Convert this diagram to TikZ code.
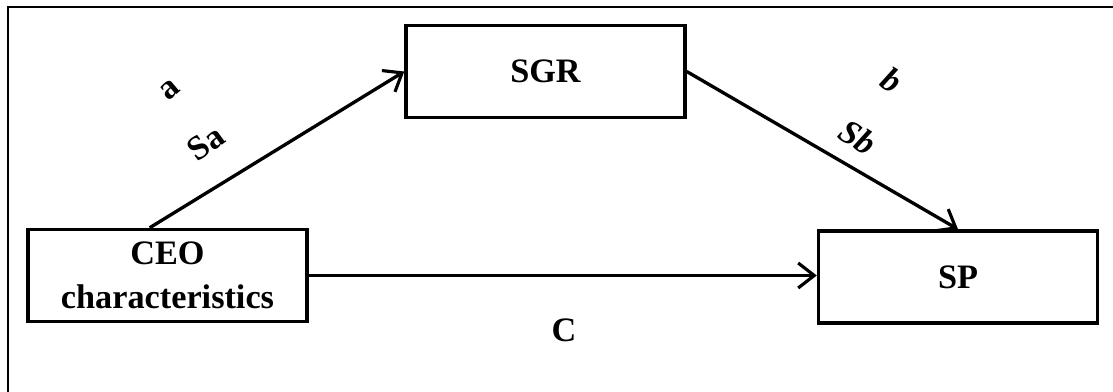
\documentclass[tikz,border=0pt]{standalone}
\usepackage{fontspec}
\setmainfont{Liberation Serif}
\usetikzlibrary{arrows.meta, calc}
\begin{document}
\begin{tikzpicture}[
  x=0.02cm, y=-0.02cm,
  box/.style={rectangle, draw, line width=2pt, minimum width=5.58cm, minimum height=1.84cm, align=center, font=\fontsize{19.5}{25}\selectfont\bfseries},
  lbl/.style={inner sep=0pt, font=\fontsize{19.5}{22}\selectfont\bfseries},
  line/.style={-{Straight Barb[length=3.2mm,width=5mm,line width=1.8pt]}, line width=1.9pt}
]
\useasboundingbox (0,0) rectangle (1113,392);
% Frame
\draw[line width=1.4pt] (8,392) -- (8,7) -- (1113,7);

% Boxes
\node[box] (sgr) at (545.5,71.5) {SGR};
\node[box] (ceo) at (167.5,275.5) {CEO\\characteristics};
\node[box] (sp) at (958,277) {SP};

% Arrows
\coordinate (ceotop) at ($(ceo.north west)!0.437!(ceo.north east)$);
\draw[line] (ceotop) -- (sgr.west);
\draw[line] (sgr.east) -- (sp.north);
\draw[line] (ceo.east) -- (ceo.east -| sp.west);

% Labels
\node[lbl, rotate=40] (la) at (170,90) {a};
\node[lbl, rotate=36] (lsa) at (206,143) {Sa};
\node[lbl, rotate=-32, font=\fontsize{19.5}{22}\selectfont\bfseries\itshape] (lb) at (892,80) {b};
\node[lbl, rotate=-32, font=\fontsize{19.5}{22}\selectfont\bfseries\itshape] (lsb) at (858,137) {Sb};
\node[lbl] (lc) at (564,330) {C};
\end{tikzpicture}
\end{document}
